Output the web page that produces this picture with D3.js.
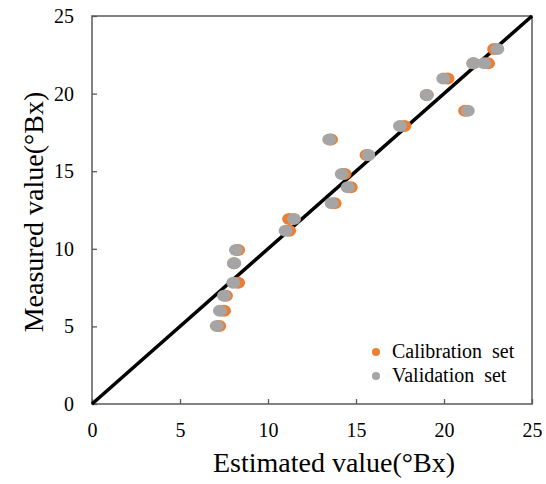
<!DOCTYPE html>
<html>
<head>
<meta charset="utf-8">
<script src="https://cdn.jsdelivr.net/npm/d3@7"></script>
<style>
  html, body { margin: 0; padding: 0; background: #fff; }
  svg { display: block; }
  text { font-family: "Liberation Serif", "Times New Roman", serif; fill: #000; }
</style>
</head>
<body>
<svg id="chart" width="546" height="484"></svg>
<script>
// Estimated vs measured soluble solids (°Bx)
const calibEstimated = [7.23, 7.50, 7.61, 8.30, 8.07, 8.30, 11.20, 11.20, 13.58, 14.35,
                        14.70, 13.78, 15.60, 17.75, 19.02, 20.20, 21.20, 21.67, 22.50, 22.85];
const calibMeasured  = [5.03, 6.01, 6.98, 7.82, 9.07, 9.92, 11.17, 11.92, 17.05, 14.82,
                        13.96, 12.93, 16.04, 17.91, 19.91, 20.98, 18.90, 21.95, 21.95, 22.87];

const validEstimated = [7.09, 7.27, 7.50, 8.03, 8.07, 8.18, 11.00, 11.48, 13.48, 14.19,
                        14.53, 13.62, 15.70, 17.50, 19.02, 19.96, 21.35, 21.67, 22.29, 23.03];
const validMeasured  = [5.03, 6.01, 6.98, 7.82, 9.07, 9.92, 11.17, 11.92, 17.05, 14.82,
                        13.96, 12.93, 16.04, 17.91, 19.91, 20.98, 18.90, 21.95, 21.95, 22.87];

const tickValues = [0, 5, 10, 15, 20, 25];
const oneToOne = [0, 25];
const seriesNames = ["Calibration\u00a0 set", "Validation\u00a0 set"];
const seriesColors = ["#ED7D31", "#A5A5A5"];

const svg = d3.select("#chart");
const plotLeft = 92, plotRight = 532, plotTop = 16, plotBottom = 404;

const x = d3.scaleLinear().domain([0, 25]).range([plotLeft, plotRight]);
const y = d3.scaleLinear().domain([0, 25]).range([plotBottom, plotTop]);

// Axes with inward ticks
const xAxis = svg.append("g")
  .attr("transform", `translate(0,${plotBottom})`)
  .call(d3.axisBottom(x).tickValues(tickValues).tickSizeInner(-5).tickSizeOuter(0));
const yAxis = svg.append("g")
  .attr("transform", `translate(${plotLeft},0)`)
  .call(d3.axisLeft(y).tickValues(tickValues).tickSizeInner(-5).tickSizeOuter(0));

[xAxis, yAxis].forEach(g => {
  g.select(".domain").remove();
  g.selectAll(".tick line").attr("stroke", "#595959").attr("stroke-width", 1.3);
  g.selectAll(".tick text")
    .style("font-family", '"Liberation Serif", "Times New Roman", serif')
    .style("font-size", "20px")
    .attr("fill", "#000");
});
xAxis.selectAll(".tick text").attr("y", 32.5).attr("dy", null);
yAxis.selectAll(".tick text").attr("x", -18);

// Plot frame
svg.append("rect")
  .attr("x", x(0)).attr("y", y(25))
  .attr("width", x(25) - x(0)).attr("height", y(0) - y(25))
  .attr("fill", "none").attr("stroke", "#595959").attr("stroke-width", 1.5);

// 1:1 line
svg.append("path")
  .datum(oneToOne)
  .attr("d", d3.line().x(d => x(d)).y(d => y(d)))
  .attr("stroke", "#000").attr("stroke-width", 3.5).attr("fill", "none");

// Scatter points
function drawSeries(est, meas, color) {
  svg.append("g").selectAll("ellipse")
    .data(est.map((e, i) => [e, meas[i]]))
    .join("ellipse")
    .attr("cx", d => x(d[0]))
    .attr("cy", d => y(d[1]))
    .attr("rx", 7).attr("ry", 6)
    .attr("fill", color);
}
drawSeries(calibEstimated, calibMeasured, seriesColors[0]);
drawSeries(validEstimated, validMeasured, seriesColors[1]);

// Legend
const legend = svg.append("g");
seriesNames.forEach((name, i) => {
  const ly = 352 + i * 24;
  legend.append("circle").attr("cx", 376).attr("cy", ly).attr("r", 4).attr("fill", seriesColors[i]);
  legend.append("text").attr("x", 392).attr("y", ly + 6)
    .style("font-size", "20px").text(name);
});

// Axis titles
svg.append("text")
  .attr("x", 334).attr("y", 472)
  .attr("text-anchor", "middle")
  .style("font-size", "28px")
  .text("Estimated value(°Bx)");

svg.append("text")
  .attr("transform", `translate(43,212) rotate(-90)`)
  .attr("text-anchor", "middle")
  .style("font-size", "28px")
  .text("Measured value(°Bx)");
</script>
</body>
</html>
